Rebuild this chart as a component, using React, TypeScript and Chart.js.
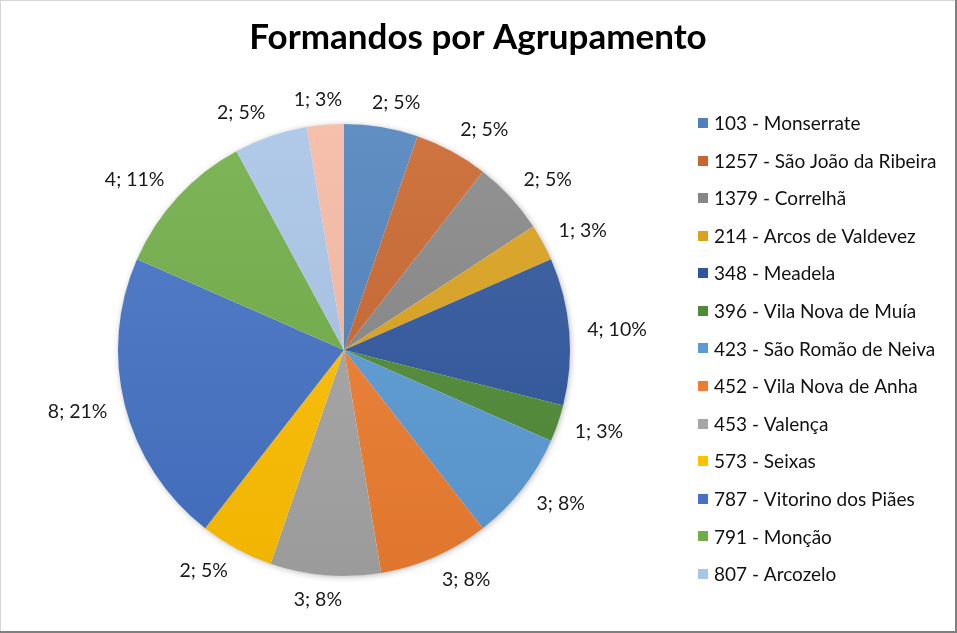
import React, { useEffect, useRef } from "react";
import { Chart, registerables } from "chart.js";

Chart.register(...registerables);

const TITLE = "Formandos por Agrupamento";
const categories = [
  "103 - Monserrate",
  "1257 - São João da Ribeira",
  "1379 - Correlhã",
  "214 - Arcos de Valdevez",
  "348 - Meadela",
  "396 - Vila Nova de Muía",
  "423 - São Romão de Neiva",
  "452 - Vila Nova de Anha",
  "453 - Valença",
  "573 - Seixas",
  "787 - Vitorino dos Piães",
  "791 - Monção",
  "807 - Arcozelo",
  "Outro",
];
const values = [2, 2, 2, 1, 4, 1, 3, 3, 3, 2, 8, 4, 2, 1];
const percentLabels = ["5%", "5%", "5%", "3%", "10%", "3%", "8%", "8%", "8%", "5%", "21%", "11%", "5%", "3%"];
const colors = [
  "#4f82bd", "#c9662d", "#878787", "#daa21d", "#2f569c", "#4f8a36", "#5b9bd5",
  "#ee7d30", "#a5a5a5", "#ffc000", "#4472c4", "#70ad47", "#a8c4e6", "#f5b9a3",
];
const LEGEND_VISIBLE = 13;

function mix(hex: string, target: number, amt: number): string {
  const n = parseInt(hex.slice(1), 16);
  const r = (n >> 16) & 255, g = (n >> 8) & 255, b = n & 255;
  const f = (c: number) => Math.round(c + (target - c) * amt);
  return `rgb(${f(r)},${f(g)},${f(b)})`;
}

const overlayPlugin = {
  id: "overlay",
  beforeDatasetsDraw(chart: any) {
    const meta = chart.getDatasetMeta(0);
    const arc = meta.data[0];
    if (!arc) return;
    const { x, y, outerRadius } = arc.getProps(["x", "y", "outerRadius"], true);
    const ctx = chart.ctx;
    ctx.save();
    ctx.shadowColor = "rgba(0,0,0,0.3)";
    ctx.shadowBlur = 6;
    ctx.shadowOffsetX = 1;
    ctx.shadowOffsetY = 1;
    ctx.fillStyle = "#ffffff";
    ctx.beginPath();
    ctx.arc(x, y, outerRadius - 0.5, 0, Math.PI * 2);
    ctx.fill();
    ctx.restore();
  },
  afterDraw(chart: any) {
    const ctx = chart.ctx;
    const W = chart.width, H = chart.height;
    ctx.save();
    // title
    ctx.fillStyle = "#000000";
    ctx.font = "bold 35px Lato";
    ctx.textAlign = "center";
    ctx.textBaseline = "alphabetic";
    ctx.fillText(TITLE, 478, 49);

    // data labels
    const meta = chart.getDatasetMeta(0);
    ctx.font = "19.5px Lato";
    ctx.fillStyle = "#1a1a1a";
    ctx.textAlign = "center";
    ctx.textBaseline = "middle";
    meta.data.forEach((arc: any, i: number) => {
      const p = arc.getProps(["x", "y", "startAngle", "endAngle", "outerRadius"], true);
      const m = (p.startAngle + p.endAngle) / 2;
      const c = Math.cos(m), s = Math.sin(m);
      const text = `${values[i]}; ${percentLabels[i]}`;
      const w = ctx.measureText(text).width;
      const k = Math.max(-1, Math.min(1, 3 * c));
      const cx = p.x + c * (p.outerRadius + 18) + (w / 2) * k;
      const cy = p.y + s * (p.outerRadius + 18) + 7 * s;
      ctx.fillText(text, cx, cy);
    });

    // legend
    ctx.textAlign = "left";
    ctx.textBaseline = "middle";
    ctx.font = "19px Lato";
    for (let i = 0; i < LEGEND_VISIBLE; i++) {
      const yy = 123 + i * 37.58;
      ctx.fillStyle = colors[i];
      ctx.fillRect(698, Math.round(yy - 5), 10, 10);
      ctx.fillStyle = "#111111";
      ctx.fillText(categories[i], 714, yy + 1);
    }

    // border
    ctx.fillStyle = "#d4d4d4";
    ctx.fillRect(0, 0, W, 1);
    ctx.fillRect(0, 0, 1, H);
    ctx.fillStyle = "#7f7f7f";
    ctx.fillRect(W - 2, 0, 2, H);
    ctx.fillRect(0, H - 2, W, 2);
    ctx.restore();
  },
};

export default function App() {
  const ref = useRef<HTMLCanvasElement | null>(null);
  useEffect(() => {
    if (!ref.current) return;
    const chart = new Chart(ref.current, {
      type: "pie",
      data: {
        labels: categories,
        datasets: [
          {
            data: values,
            backgroundColor: (c: any) => {
              const base = colors[c.dataIndex] || "#888888";
              const area = c.chart.chartArea;
              if (!area) return base;
              const g = c.chart.ctx.createLinearGradient(0, area.top, 0, area.bottom);
              g.addColorStop(0, mix(base, 255, 0.1));
              g.addColorStop(1, mix(base, 0, 0.06));
              return g;
            },
            borderWidth: 0,
          },
        ],
      },
      options: {
        responsive: false,
        animation: false,
        layout: { padding: { left: 118, right: 387, top: 124, bottom: 57 } },
        plugins: {
          legend: { display: false },
          title: { display: false },
          tooltip: { enabled: false },
        },
        events: [],
      },
      plugins: [overlayPlugin],
    });
    return () => chart.destroy();
  }, []);
  return (
    <div style={{ position: "fixed", left: 0, top: 0, width: 957, height: 633, background: "#ffffff" }}>
      <canvas ref={ref} width={957} height={633} style={{ display: "block" }} />
    </div>
  );
}
